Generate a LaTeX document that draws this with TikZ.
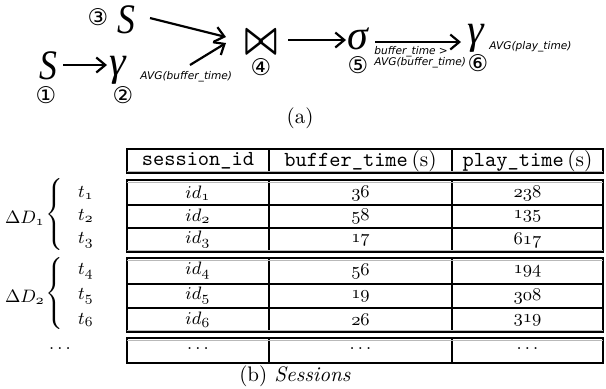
\documentclass[tikz,border=0pt]{standalone}
\usepackage{fontspec}
\newfontfamily\djv{DejaVu Sans}
\newfontfamily\lserif{Liberation Serif}
\newcommand{\osn}[1]{\ensuremath{\mathnormal{#1}}}
\usetikzlibrary{arrows.meta}
\begin{document}
\begin{tikzpicture}[x=0.5pt,y=-0.5pt,
  big/.style={inner sep=0pt,font=\lserif\itshape\fontsize{21}{24}\selectfont},
  circ/.style={inner sep=0pt,font=\djv\fontsize{11.5}{12}\selectfont},
  lab/.style={inner sep=0pt,anchor=west,font=\djv\itshape\fontsize{5.3}{6}\selectfont},
  flow/.style={line width=1.1pt,-{Straight Barb[length=4.5pt,width=7.5pt]}},
  cell/.style={inner sep=0pt,font=\fontsize{9.5}{12}\selectfont},
  hd/.style={inner sep=0pt,font=\fontsize{10.7}{12}\selectfont},
  captxt/.style={inner sep=0pt,font=\fontsize{10.5}{12}\selectfont},
  tbox/.style={line width=0.6pt},
  tinner/.style={gray!55,line width=0.3pt},
]
\useasboundingbox (0,0) rectangle (606,388);
% ---------- (a) query plan ----------
\node[big] (S1) at (48,66) {\scalebox{0.85}[1]{S}};
\node[circ] (c1) at (46,95) {①};
\node[big] (g2) at (118,70) {γ};
\node[circ] (c2) at (123,95) {②};
\node[lab] (l2) at (140,77) {AVG(buffer\_time)};
\node[circ] (c3) at (98,17) {③};
\node[big] (S3) at (126,20) {\scalebox{0.85}[1]{S}};
\node[inner sep=0pt,font=\fontsize{16}{18}\selectfont] (J) at (261,42) {\scalebox{1}[1.35]{\boldmath$\bowtie$}};
\node[circ] (c4) at (261,67) {④};
\node[big] (sig) at (358,39) {σ};
\node[circ] (c5) at (358,65) {⑤};
\node[lab] (l5a) at (374,52) {buffer\_time >};
\node[lab] (l5b) at (374,63) {AVG(buffer\_time)};
\node[big] (g6) at (476,38) {γ};
\node[circ] (c6) at (478,63) {⑥};
\node[lab] (l6) at (489,47) {AVG(play\_time)};
\node[captxt] (capA) at (300,118) {(a)};

\draw[flow] ([shift={(15,-1)}]S1.center) -- ([shift={(-11,-5)}]g2.center);
\draw[flow] ([shift={(24,-2)}]S3.center) -- ([shift={(-35,-5)}]J.center);
\draw[flow] ([shift={(72,-5)}]g2.center) -- ([shift={(-35,1)}]J.center);
\draw[flow] ([shift={(27,-2)}]J.center) -- ([shift={(-12,1)}]sig.center);
\draw[flow] ([shift={(17,3)}]sig.center) -- ([shift={(-15,4)}]g6.center);

% ---------- (b) table ----------
% header
\draw[tbox] (127,149) rectangle (603,173);
\draw[tbox] (269,149) -- (269,173) (452,149) -- (452,173);
\draw[tinner] (127,171) -- (603,171);
\node[hd] (h1) at (198,161) {\texttt{session\_id}};
\node[hd] (h2) at (360.5,161) {\texttt{buffer\_time}\,(s)};
\node[hd] (h3) at (527.5,161) {\texttt{play\_time}\,(s)};
% group 1
\draw[tbox] (127,180) rectangle (603,252);
\draw[tbox] (127,205) -- (603,205) (127,228) -- (603,228);
\draw[tbox] (269,180) -- (269,252) (452,180) -- (452,252);
\draw[tinner] (127,182) -- (603,182) (127,250) -- (603,250);
% group 2
\draw[tbox] (127,258) rectangle (603,332);
\draw[tbox] (127,284) -- (603,284) (127,308) -- (603,308);
\draw[tbox] (269,258) -- (269,332) (452,258) -- (452,332);
\draw[tinner] (127,260) -- (603,260) (127,330) -- (603,330);
% group 3
\draw[tbox] (127,338) rectangle (603,363);
\draw[tbox] (269,338) -- (269,363) (452,338) -- (452,363);
\draw[tinner] (127,340) -- (603,340);

% cells
\node[cell] (a1) at (198,193) {$id_{\mathnormal{1}}$};
\node[cell] (b1) at (360.5,193) {\osn{36}};
\node[cell] (p1) at (527.5,193) {\osn{238}};
\node[cell] (a2) at (198,216) {$id_{\mathnormal{2}}$};
\node[cell] (b2) at (360.5,216) {\osn{58}};
\node[cell] (p2) at (527.5,216) {\osn{135}};
\node[cell] (a3) at (198,240) {$id_{\mathnormal{3}}$};
\node[cell] (b3) at (360.5,240) {\osn{17}};
\node[cell] (p3) at (527.5,240) {\osn{617}};
\node[cell] (a4) at (198,271) {$id_{\mathnormal{4}}$};
\node[cell] (b4) at (360.5,271) {\osn{56}};
\node[cell] (p4) at (527.5,271) {\osn{194}};
\node[cell] (a5) at (198,296) {$id_{\mathnormal{5}}$};
\node[cell] (b5) at (360.5,296) {\osn{19}};
\node[cell] (p5) at (527.5,296) {\osn{308}};
\node[cell] (a6) at (198,320) {$id_{\mathnormal{6}}$};
\node[cell] (b6) at (360.5,320) {\osn{26}};
\node[cell] (p6) at (527.5,320) {\osn{319}};
\node[cell] (a7) at (198,349) {$\dots$};
\node[cell] (b7) at (360.5,349) {$\dots$};
\node[cell] (p7) at (527.5,349) {$\dots$};

% row labels
\node[cell] (t1) at (86,193) {$t_{\mathnormal{1}}$};
\node[cell] (t2) at (86,216) {$t_{\mathnormal{2}}$};
\node[cell] (t3) at (86,240) {$t_{\mathnormal{3}}$};
\node[cell] (t4) at (86,271) {$t_{\mathnormal{4}}$};
\node[cell] (t5) at (86,296) {$t_{\mathnormal{5}}$};
\node[cell] (t6) at (86,320) {$t_{\mathnormal{6}}$};
\node[cell] (dots) at (60,349) {$\dots$};
\node[cell] (br1) at (56,216) {$\left\{\vrule height 17pt depth 17pt width 0pt\right.$};
\node[cell] (br2) at (56,295) {$\left\{\vrule height 17pt depth 17pt width 0pt\right.$};
\node[cell] (D1) at (25,218) {$\Delta D_{\mathnormal{1}}$};
\node[cell] (D2) at (25,297) {$\Delta D_{\mathnormal{2}}$};

\node[captxt] (capB) at (295,376) {(b) \textit{Sessions}};
\end{tikzpicture}
\end{document}
